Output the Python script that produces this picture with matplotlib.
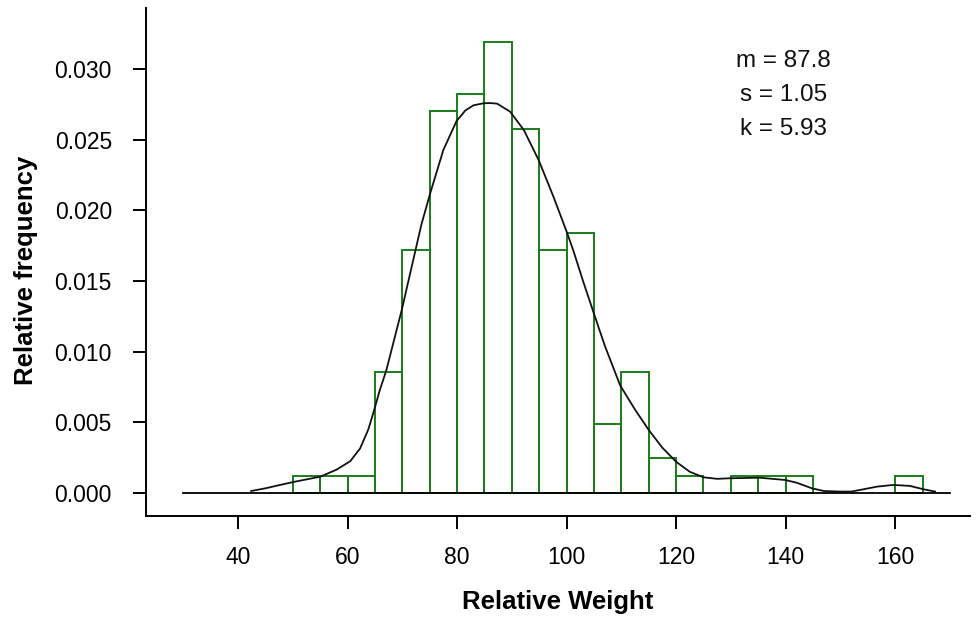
import numpy as np
import matplotlib
matplotlib.use('Agg')
import matplotlib.pyplot as plt

plt.rcParams['font.family'] = ['Liberation Sans', 'DejaVu Sans']

# Гистограмма: левые границы бинов (ширина 5) и число наблюдений в бине
bin_left = [50, 55, 60, 65, 70, 75, 80, 85, 90, 95, 100, 105, 110, 115, 120,
            125, 130, 135, 140, 145, 150, 155, 160]
counts = [1, 1, 1, 7, 14, 22, 23, 26, 21, 14, 15, 4, 7, 2, 1,
          0, 1, 1, 1, 0, 0, 0, 1]
bin_width = 5
n_total = sum(counts)

# Сглаженная кривая плотности (точки)
curve_x = [42.4, 45.0, 47.7, 50.4, 55.0, 58.0, 60.5, 62.3, 63.8, 64.7, 65.9,
           67.1, 69.9, 72.0, 73.5, 75.1, 77.5, 79.9, 81.5, 83.0, 84.8, 86.0,
           87.3, 89.7, 92.2, 94.9, 97.6, 100.0, 101.2, 103.0, 104.9, 107.0,
           109.8, 112.5, 115.0, 117.5, 120.0, 122.5, 125.0, 127.5, 129.7,
           132.5, 135.3, 139.9, 142.0, 144.8, 147.0, 150.0, 152.0, 154.2,
           156.7, 159.7, 162.7, 165.2, 167.3]
curve_y = [0.00014, 0.00033, 0.00057, 0.0008, 0.00115, 0.00165, 0.00225,
           0.00315, 0.00450, 0.00565, 0.00728, 0.0087, 0.01294, 0.01648,
           0.0190, 0.02120, 0.02426, 0.02630, 0.02705, 0.02742, 0.02756,
           0.02758, 0.02754, 0.02697, 0.02567, 0.02355, 0.02096, 0.01850,
           0.01719, 0.01500, 0.0128, 0.0104, 0.00760, 0.00590, 0.00446,
           0.00320, 0.00221, 0.00150, 0.00111, 0.00100, 0.00104, 0.00106,
           0.00108, 0.00092, 0.00073, 0.00033, 0.00014, 0.0001, 0.0001,
           0.00026, 0.00045, 0.00057, 0.0005, 0.00026, 0.0001]

baseline_x = [30, 170]
stats_text = 'm = 87.8\ns = 1.05\nk = 5.93'

density = np.array(counts) / (n_total * bin_width)

fig = plt.figure(figsize=(9.76, 6.18), dpi=100)
ax = fig.add_axes([0.1496, 0.165, 0.8444, 0.822])

# столбики (пустые бины не рисуем)
for left, h in zip(bin_left, density):
    if h > 0:
        ax.bar(left, h, width=bin_width, align='edge', fill=False,
               edgecolor='#1a7d1a', linewidth=1.4, zorder=2)

ax.plot(curve_x, curve_y, color='#111111', linewidth=1.3, zorder=3)
ax.plot(baseline_x, [0, 0], color='black', linewidth=1.3, zorder=4)

ax.text(0.773, 0.829, stats_text, transform=ax.transAxes, ha='center',
        va='center', fontsize=17.5, linespacing=1.7, color='#111111')

ax.set_xlim(23.2, 173.7)
ax.set_ylim(-0.00163, 0.0343)
ax.set_xticks([40, 60, 80, 100, 120, 140, 160])
ax.set_yticks([0.0, 0.005, 0.010, 0.015, 0.020, 0.025, 0.030])
ax.set_yticklabels(['0.000', '0.005', '0.010', '0.015', '0.020', '0.025', '0.030'])

for side in ['top', 'right']:
    ax.spines[side].set_visible(False)
for side in ['left', 'bottom']:
    ax.spines[side].set_linewidth(1.4)
ax.tick_params(direction='out', length=9.5, width=1.4, labelsize=16.5,
               colors='black')
ax.tick_params(axis='y', pad=15)
ax.tick_params(axis='x', pad=12)

ax.set_xlabel('Relative Weight', fontsize=18.5, fontweight='bold', labelpad=15)
ax.set_ylabel('Relative frequency', fontsize=18.5, fontweight='bold')
ax.yaxis.set_label_coords(-0.131, 0.484)

fig.savefig('out.png', dpi=100)
